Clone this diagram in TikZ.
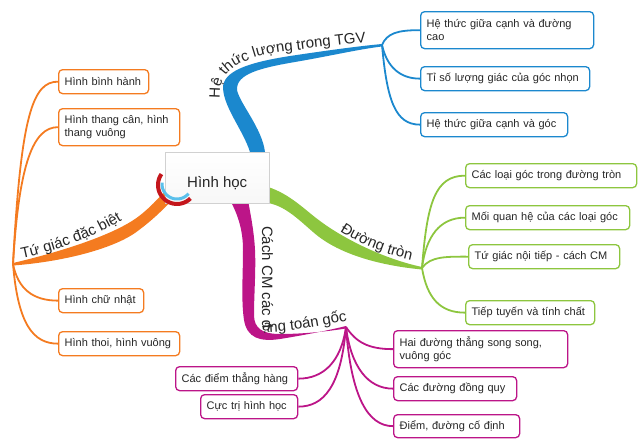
\documentclass[tikz,border=0pt]{standalone}
\usepackage{fontspec}
\setmainfont{Liberation Sans}
\usepackage{tikz}
\usetikzlibrary{decorations.text}

\definecolor{tgv}{HTML}{1B88CE}
\definecolor{tron}{HTML}{8DC63F}
\definecolor{goc}{HTML}{BC1588}
\definecolor{tugiac}{HTML}{F47B20}
\definecolor{swirlred}{HTML}{C4161C}
\definecolor{swirlblue}{HTML}{5BC0EB}

\begin{document}
\begin{tikzpicture}[x=1pt, y=-1pt,
leaf_style/.style={draw=#1, fill=white, rounded corners=4pt, line width=1.3pt, inner xsep=6pt, inner ysep=0pt, minimum height=24pt, anchor=north west, align=left, font=\fontsize{11}{13}\selectfont, text=black!85},
root_style/.style={draw=black!18, top color=white, bottom color=black!3, inner sep=0pt, minimum width=104pt, minimum height=51pt, text height=19pt, text depth=0pt, anchor=north west, font=\fontsize{15}{17}\selectfont, text=black!85},
edge_style/.style={draw=#1, line width=1.8pt},
label_style/.style={decorate, decoration={text along path, text color=black!85, text={|\fontsize{15}{17}\selectfont|#1}}}]
\useasboundingbox (0,0) rectangle (643,447);

\coordinate (tgvhub) at (382,45);
\coordinate (tronhub) at (422,268);
\coordinate (gochub) at (346,327);
\coordinate (tugiachub) at (13,264);

% thick branches
\fill[tgv] (251,160) -- (250,152) .. controls (243,130) and (224,108) .. (223,88)
  .. controls (223,72) and (245,63) .. (290,56) .. controls (330,50) and (360,46) .. (382,44)
  -- (382,46.5) .. controls (360,49) and (330,56) .. (295,62) .. controls (260,68) and (236,74) .. (237,90)
  .. controls (240,104) and (262,128) .. (265,152) -- (266,160) -- cycle;
\fill[tron] (262,186) -- (268,187) .. controls (290,194) and (305,210) .. (320,221)
  .. controls (340,236) and (380,258) .. (422,267) -- (422,269.5)
  .. controls (385,266) and (340,256) .. (313,232) .. controls (298,219) and (285,206) .. (268,203) -- (262,203) -- cycle;
\fill[goc] (228,196) -- (230,200) .. controls (238,215) and (243,230) .. (243,250)
  .. controls (243,275) and (241,300) .. (244,320) .. controls (247,338) and (260,342) .. (280,339)
  .. controls (305,335) and (330,330) .. (346,326) -- (346,328.5)
  .. controls (330,331) and (305,334) .. (280,334) .. controls (262,334) and (254,328) .. (254,315)
  .. controls (254,295) and (256,270) .. (255,250) .. controls (254,230) and (250,212) .. (248,200) -- (248,196) -- cycle;
\fill[tugiac] (13,263) .. controls (60,252) and (110,236) .. (135,219) .. controls (148,210) and (160,197) .. (170,185)
  -- (176,192) -- (174,198) .. controls (160,213) and (150,222) .. (135,233)
  .. controls (110,250) and (60,262) .. (13,265.5) -- cycle;

\node[root_style] (root) at (165,152) {Hình học};

% swirl
\draw[swirlred, line width=4pt] plot[smooth, domain=45:215, samples=25] ({177+19*cos(\x)},{185+19*sin(\x)});
\draw[swirlblue, line width=3pt] plot[smooth, domain=40:185, samples=25] ({177+15*cos(\x)},{184+15*sin(\x)});

% branch labels
\path[label_style=Hệ thức lượng trong TGV] (220,98) .. controls (217,68) and (248,55) .. (290,51) .. controls (330,46) and (355,43) .. (380,41);
\path[label_style=Đường tròn] (340,231) .. controls (361,245) and (386,255) .. (420,262);
\path[label_style=Tứ giác đặc biệt] (22,258) .. controls (60,250) and (100,236) .. (135,212);
\path[label_style=Cách CM các dạng toán gốc] (262,226) -- (262,315) .. controls (262,329) and (262,332) .. (270,332) .. controls (300,331) and (330,324) .. (360,318);

% leaves
\node[leaf_style=tgv, text width=161pt, minimum height=37pt] (b1) at (420,11) {Hệ thức giữa cạnh và đường\\cao};
\node[leaf_style=tgv, text width=157pt] (b2) at (420,66) {Tỉ số lượng giác của góc nhọn};
\node[leaf_style=tgv, text width=135pt] (b3) at (420,112) {Hệ thức giữa cạnh và góc};

\node[leaf_style=tron, text width=159pt] (g1) at (465,163) {Các loại góc trong đường tròn};
\node[leaf_style=tron, text width=152pt] (g2) at (465,205) {Mối quan hệ của các loại góc};
\node[leaf_style=tron, text width=139pt] (g3) at (468,244) {Tứ giác nội tiếp - cách CM};
\node[leaf_style=tron, text width=117pt] (g4) at (465,300) {Tiếp tuyến và tính chất};

\node[leaf_style=tugiac, text width=78pt] (o1) at (58,69) {Hình bình hành};
\node[leaf_style=tugiac, text width=109pt, minimum height=37pt] (o2) at (58,108) {Hình thang cân, hình\\thang vuông};
\node[leaf_style=tugiac, text width=73pt] (o3) at (58,288) {Hình chữ nhật};
\node[leaf_style=tugiac, text width=109pt] (o4) at (58,331) {Hình thoi, hình vuông};

\node[leaf_style=goc, text width=162pt, minimum height=37pt] (m1) at (393,330) {Hai đường thẳng song song,\\vuông góc};
\node[leaf_style=goc, text width=111pt] (m2) at (393,376) {Các đường đồng quy};
\node[leaf_style=goc, text width=114pt, minimum height=23pt] (m3) at (393,414) {Điểm, đường cố định};
\node[leaf_style=goc, text width=110pt] (l1) at (175,366) {Các điểm thẳng hàng};
\node[leaf_style=goc, text width=85pt] (l2) at (200,394) {Cực trị hình học};

% connectors
\draw[edge_style=tgv] (tgvhub) .. controls +(5,-12) and +(-22,0) .. (b1.west);
\draw[edge_style=tgv] (tgvhub) .. controls +(5,22) and +(-20,0) .. (b2.west);
\draw[edge_style=tgv] (tgvhub) .. controls +(5,55) and +(-25,0) .. (b3.west);

\draw[edge_style=tron] (tronhub) .. controls +(5,-65) and +(-30,0) .. (g1.west);
\draw[edge_style=tron] (tronhub) .. controls +(4,-32) and +(-25,0) .. (g2.west);
\draw[edge_style=tron] (tronhub) .. controls +(8,-12) and +(-20,0) .. (g3.west);
\draw[edge_style=tron] (tronhub) .. controls +(5,30) and +(-25,0) .. (g4.west);

\draw[edge_style=tugiac] (tugiachub) .. controls +(8,-150) and +(-25,0) .. (o1.west);
\draw[edge_style=tugiac] (tugiachub) .. controls +(6,-100) and +(-25,0) .. (o2.west);
\draw[edge_style=tugiac] (tugiachub) .. controls +(5,25) and +(-25,0) .. (o3.west);
\draw[edge_style=tugiac] (tugiachub) .. controls +(5,60) and +(-25,0) .. (o4.west);

\draw[edge_style=goc] (gochub) .. controls +(10,15) and +(-25,0) .. (m1.west);
\draw[edge_style=goc] (gochub) .. controls +(5,40) and +(-25,0) .. (m2.west);
\draw[edge_style=goc] (gochub) .. controls +(5,70) and +(-25,0) .. (m3.west);
\draw[edge_style=goc] (gochub) .. controls +(-5,35) and +(25,0) .. (l1.east);
\draw[edge_style=goc] (gochub) .. controls +(-5,60) and +(25,0) .. (l2.east);
\end{tikzpicture}
\end{document}
